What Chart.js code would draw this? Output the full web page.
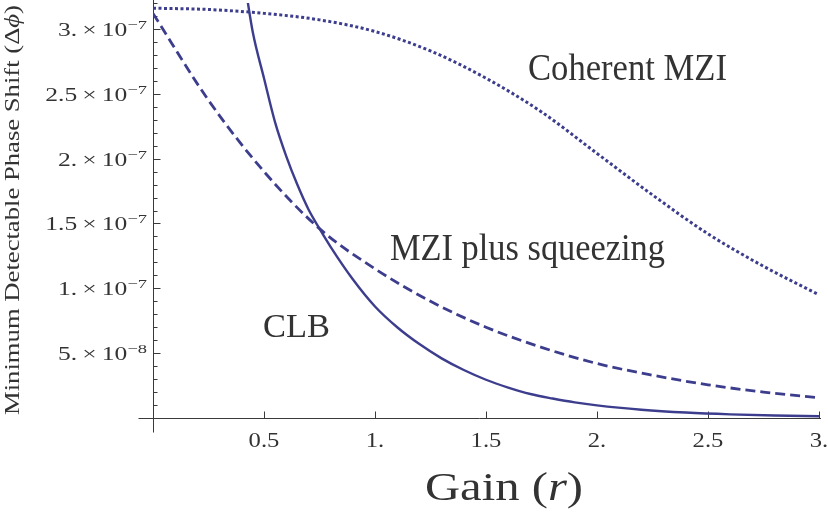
<!DOCTYPE html>
<html>
<head>
<meta charset="utf-8">
<script src="https://cdn.jsdelivr.net/npm/chart.js@4.4.0/dist/chart.umd.min.js"></script>
<style>
  html, body { margin: 0; padding: 0; background: #fff; }
</style>
</head>
<body>
<canvas id="myChart" width="828" height="516"></canvas>
<script>

// Coherent MZI (dotted)
const gainCoherent = [0, 0.25, 0.5, 0.75, 1.0, 1.25, 1.5, 1.75, 2.0, 2.25, 2.5, 2.75, 3.0];
const coherentMZI = [3.16e-7, 3.15e-7, 3.12e-7, 3.07e-7, 2.98e-7, 2.83e-7, 2.62e-7, 2.36e-7, 2.04e-7, 1.72e-7, 1.42e-7, 1.17e-7, 0.95e-7];

// MZI plus squeezing (dashed)
const gainSqueezing = [0, 0.25, 0.5, 0.75, 1.0, 1.25, 1.5, 1.75, 2.0, 2.25, 2.5, 2.75, 3.0];
const mziSqueezing = [3.12e-7, 2.45e-7, 1.90e-7, 1.46e-7, 1.15e-7, 0.90e-7, 0.70e-7, 0.545e-7, 0.42e-7, 0.33e-7, 0.256e-7, 0.20e-7, 0.155e-7];

// CLB (solid)
const gainCLB = [0.42, 0.45, 0.5, 0.55, 0.6, 0.65, 0.7, 0.75, 0.8, 0.9, 1.0, 1.1, 1.2, 1.3, 1.4, 1.5, 1.6, 1.7, 1.8, 1.9, 2.0, 2.2, 2.4, 2.6, 2.8, 3.0];
const clb = [3.28e-7, 2.97e-7, 2.62e-7, 2.28e-7, 2.02e-7, 1.80e-7, 1.61e-7, 1.46e-7, 1.32e-7, 1.07e-7, 0.86e-7, 0.70e-7, 0.57e-7, 0.46e-7, 0.37e-7, 0.295e-7, 0.235e-7, 0.185e-7, 0.15e-7, 0.12e-7, 0.097e-7, 0.064e-7, 0.042e-7, 0.028e-7, 0.019e-7, 0.013e-7];

// ticks
const xTicks = [0.5, 1, 1.5, 2, 2.5, 3];
const xTickLabels = ["0.5", "1.", "1.5", "2.", "2.5", "3."];
const yTicks = [5e-8, 1e-7, 1.5e-7, 2e-7, 2.5e-7, 3e-7];
const yTickMant = ["5.", "1.", "1.5", "2.", "2.5", "3."];
const yTickExp = ["\u22128", "\u22127", "\u22127", "\u22127", "\u22127", "\u22127"];
const yMinorStep = 1e-8;

const lineColor = "#3d3d8e";
const textColor = "#333";
const serif = '"Liberation Serif", "DejaVu Serif", serif';

function toPoints(xs, ys) {
    return xs.map((x, i) => ({ x: x, y: ys[i] }));
}

// width of text made of several pieces (text, font)
function richWidth(ctx, parts) {
    let w = 0;
    for (const p of parts) {
        ctx.font = p[1];
        w += ctx.measureText(p[0]).width;
    }
    return w;
}

// draw pieces starting at x, scaled horizontally by sx
function drawRich(ctx, parts, x, y, sx) {
    ctx.save();
    ctx.translate(x, y);
    ctx.scale(sx, 1);
    let cx = 0;
    for (const p of parts) {
        ctx.font = p[1];
        ctx.fillText(p[0], cx, p[2] || 0);
        cx += ctx.measureText(p[0]).width;
    }
    ctx.restore();
}

// fit text into a box between left and right
function fitRich(ctx, parts, left, right, baseline) {
    const w = richWidth(ctx, parts);
    drawRich(ctx, parts, left, baseline, (right - left) / w);
}

// ....... Mathematica style axes, ticks and labels .............
const mmaAxes = {
    id: "mmaAxes",
    beforeDatasetsDraw(chart) {
        const ctx = chart.ctx;
        const xs = chart.scales.x, ys = chart.scales.y;
        const x0 = Math.round(xs.getPixelForValue(0)) + 0.5;
        const y0 = Math.round(ys.getPixelForValue(0)) + 0.5;
        ctx.save();
        ctx.strokeStyle = "#3a3a3a";
        ctx.lineWidth = 1;
        ctx.beginPath();
        ctx.moveTo(x0 - 15, y0);
        ctx.lineTo(xs.right + 2, y0);
        ctx.moveTo(x0, 0);
        ctx.lineTo(x0, y0 + 14);
        // y ticks, minor and major
        const nMinor = Math.floor(ys.max / yMinorStep + 1e-6);
        for (let k = 1; k <= nMinor; k++) {
            const py = Math.round(ys.getPixelForValue(k * yMinorStep)) + 0.5;
            const len = k % 5 === 0 ? 7 : 4;
            ctx.moveTo(x0, py);
            ctx.lineTo(x0 + len, py);
        }
        // x ticks
        for (const t of xTicks) {
            const px = Math.round(xs.getPixelForValue(t)) + 0.5;
            ctx.moveTo(px, y0);
            ctx.lineTo(px, y0 - 7);
        }
        ctx.stroke();
        ctx.restore();
    },
    afterDraw(chart) {
        const ctx = chart.ctx;
        const xs = chart.scales.x, ys = chart.scales.y;
        ctx.save();
        ctx.fillStyle = textColor;
        ctx.textBaseline = "alphabetic";
        ctx.textAlign = "left";

        // y tick labels like 3.×10^-7
        const yParts = (m, e) => [[m + "\u2009\u00d7\u200910", "18px " + serif, 0], [e, "13px " + serif, -7]];
        const ySx = 89 / richWidth(ctx, yParts("3.", "\u22127"));
        yTicks.forEach((v, i) => {
            const parts = yParts(yTickMant[i], yTickExp[i]);
            const w = richWidth(ctx, parts) * ySx;
            drawRich(ctx, parts, 147 - w, ys.getPixelForValue(v) + 7, ySx);
        });

        // x tick labels
        xTicks.forEach((v, i) => {
            const parts = [[xTickLabels[i], "22px " + serif]];
            const w = richWidth(ctx, parts) * 1.12;
            drawRich(ctx, parts, xs.getPixelForValue(v) - w / 2, 447, 1.12);
        });

        // x title
        fitRich(ctx, [["Gain (", "40px " + serif], ["r", "italic 40px " + serif], [")", "40px " + serif]], 425, 583, 500);

        // y title, rotated
        ctx.save();
        ctx.translate(19, 415);
        ctx.rotate(-Math.PI / 2);
        fitRich(ctx, [["Minimum Detectable Phase Shift (\u0394", "20px " + serif], ["\u03d5", "italic 20px " + serif], [")", "20px " + serif]], 0, 410, 0);
        ctx.restore();

        // curve labels
        fitRich(ctx, [["Coherent MZI", "37px " + serif]], 528, 727, 80);
        fitRich(ctx, [["MZI plus squeezing", "37px " + serif]], 390, 665, 260);
        fitRich(ctx, [["CLB", "33px " + serif]], 263, 330, 337);
        ctx.restore();
    }
};

new Chart("myChart", {
    type: "line",
    data: {
        datasets: [
            {
                label: "Coherent MZI",
                data: toPoints(gainCoherent, coherentMZI),
                borderColor: lineColor,
                borderWidth: 3,
                borderDash: [3, 2.5],
                cubicInterpolationMode: "monotone",
            },
            {
                label: "MZI plus squeezing",
                data: toPoints(gainSqueezing, mziSqueezing),
                borderColor: lineColor,
                borderWidth: 2.8,
                borderDash: [10, 5],
                cubicInterpolationMode: "monotone",
            },
            {
                label: "CLB",
                data: toPoints(gainCLB, clb),
                borderColor: lineColor,
                borderWidth: 2.4,
                cubicInterpolationMode: "monotone",
            },
        ],
    },
    options: {
        responsive: false,
        animation: false,
        devicePixelRatio: 1,
        layout: { padding: { left: 153, right: 9, top: 3, bottom: 98 } },
        elements: { point: { radius: 0 } },
        plugins: { legend: { display: false }, tooltip: { enabled: false } },
        scales: {
            x: { type: "linear", min: 0, max: 3, display: false },
            y: { type: "linear", min: 0, max: 3.2e-7, display: false },
        },
    },
    plugins: [mmaAxes],
});
</script>
</body>
</html>
